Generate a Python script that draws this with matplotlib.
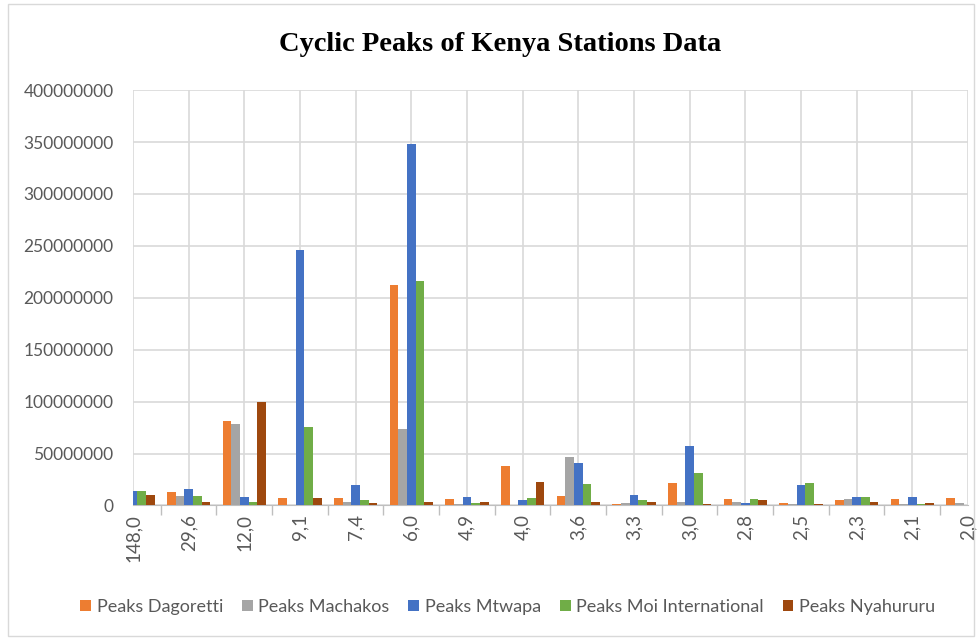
import matplotlib
matplotlib.use("Agg")
import matplotlib.pyplot as plt
import numpy as np
from matplotlib.patches import Rectangle
from matplotlib.ticker import FuncFormatter

# Data
periods = ["148,0", "29,6", "12,0", "9,1", "7,4", "6,0", "4,9", "4,0",
           "3,6", "3,3", "3,0", "2,8", "2,5", "2,3", "2,1", "2,0"]
dagoretti = [10e6, 12.5e6, 81.4e6, 7e6, 7e6, 212e6, 6.7e6, 37.8e6,
             9e6, 1.3e6, 21.8e6, 6.7e6, 2.2e6, 4.8e6, 5.8e6, 7e6]
machakos = [8e6, 9e6, 78e6, 0, 3.5e6, 73.4e6, 1.3e6, 0,
            47e6, 2.2e6, 3.5e6, 3.5e6, 1.3e6, 5.8e6, 1.3e6, 2.2e6]
mtwapa = [13.8e6, 16e6, 8e6, 245.7e6, 19.5e6, 348e6, 8e6, 4.8e6,
          41.3e6, 10.3e6, 57.4e6, 2.2e6, 19.5e6, 8e6, 8e6, 0]
moi = [14e6, 9e6, 3.5e6, 75.6e6, 4.8e6, 216.5e6, 2.2e6, 7e6,
       20.5e6, 4.8e6, 31e6, 5.8e6, 21.8e6, 8e6, 1.3e6, 0]
nyahururu = [10.3e6, 3.5e6, 99.7e6, 7e6, 2.2e6, 3.5e6, 3.5e6, 23e6,
             3.5e6, 3.5e6, 1.3e6, 4.8e6, 1.3e6, 3.5e6, 2.2e6, 0]

series = [("Peaks Dagoretti", dagoretti, "#ED7D31"),
          ("Peaks Machakos", machakos, "#A5A5A5"),
          ("Peaks Mtwapa", mtwapa, "#4472C4"),
          ("Peaks Moi International", moi, "#70AD47"),
          ("Peaks Nyahururu", nyahururu, "#9E480E")]

plt.rcParams['font.family'] = ['Lato', 'DejaVu Sans']

fig = plt.figure(figsize=(9.8, 6.4), dpi=100)
ax = fig.add_axes([0.1357, 0.2102, 0.852, 0.649])

# light frame round the whole chart
fig.patches.append(Rectangle((0.008, 0.006), 0.986, 0.988, transform=fig.transFigure,
                             fill=False, edgecolor="#D9D9D9", linewidth=1))

x = np.arange(len(periods))
w = 0.155
for i, (name, vals, col) in enumerate(series):
    ax.bar(x + (i - 2) * w, vals, width=w, color=col, label=name, zorder=3)

ax.set_xlim(0, len(periods) - 1)
ax.set_ylim(0, 400e6)
ax.set_yticks(np.arange(0, 400e6 + 1, 50e6))
ax.yaxis.set_major_formatter(FuncFormatter(lambda v, p: f"{int(v)}"))

ax.set_xticks(x)
ax.set_xticklabels(periods, rotation=90)
ax.set_xticks(np.concatenate(([0], x[:-1] + 0.5, [len(periods) - 1])), minor=True)
ax.tick_params(axis="x", which="major", length=0, pad=6, labelsize=13.5, labelcolor="#595959")
ax.tick_params(axis="x", which="minor", length=7, color="#BFBFBF", width=1)
ax.tick_params(axis="y", length=0, pad=14, labelsize=12.5, labelcolor="#595959")

ax.grid(True, which="major", color="#D9D9D9", linewidth=1.2, zorder=0)
ax.set_axisbelow(True)
for s in ["top", "right", "left"]:
    ax.spines[s].set_visible(False)
ax.spines["bottom"].set_color("#BFBFBF")

fig.text(0.51, 0.931, "Cyclic Peaks of Kenya Stations Data", ha="center", va="center",
         fontsize=20.5, fontweight="bold", family="Liberation Serif")

fig.legend(loc="center", bbox_to_anchor=(0.518, 0.052), ncol=5, frameon=False,
           fontsize=13, handlelength=0.6, handleheight=0.6, handletextpad=0.3,
           columnspacing=1.05, labelcolor="#595959")

fig.savefig("out.png", dpi=100)
